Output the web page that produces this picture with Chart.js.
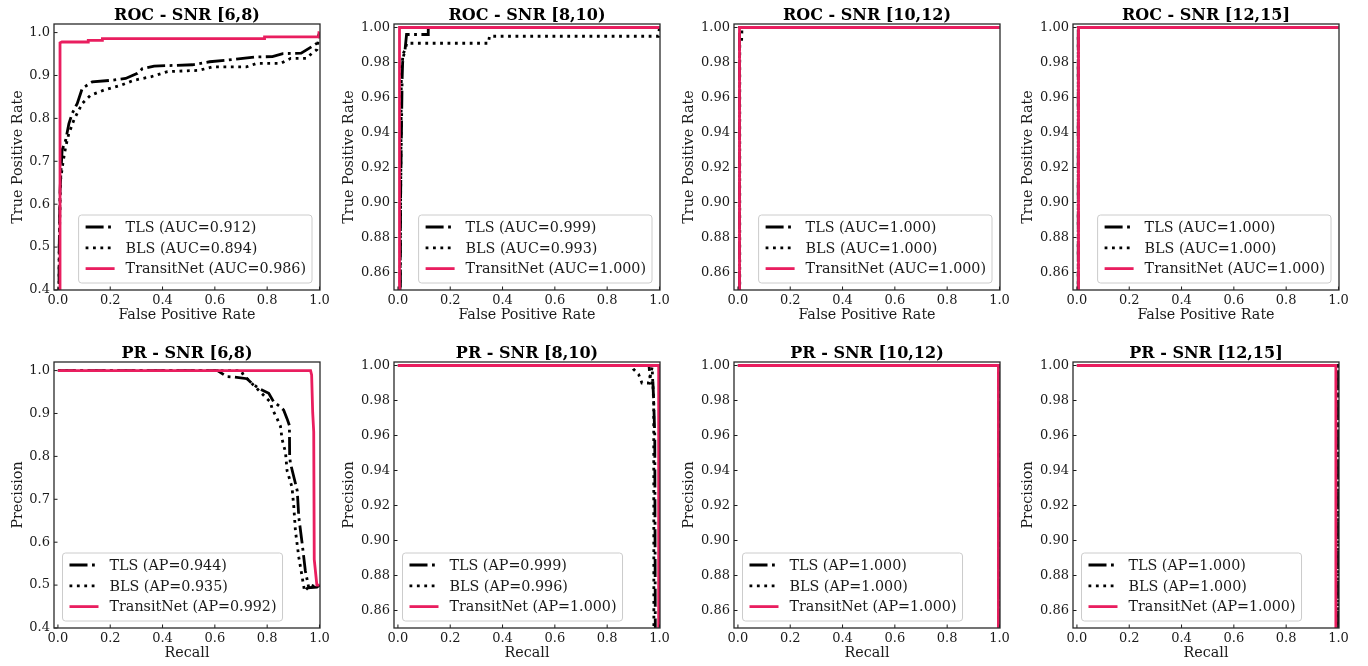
<!DOCTYPE html>
<html>
<head>
<meta charset="utf-8">
<script src="https://cdn.jsdelivr.net/npm/chart.js@4/dist/chart.umd.min.js"></script>
<style>
  html, body { margin: 0; padding: 0; background: #fff; overflow: hidden; }
  #wrap { position: relative; width: 1368px; height: 666px; }
  canvas { position: absolute; }
</style>
</head>
<body>
<div id="wrap"></div>
<script>
// SNR bins, one column each
const snrBins = ['[6,8)', '[8,10)', '[10,12)', '[12,15]'];

// summary scores shown in the legends
const aucTLS = [0.912, 0.999, 1.000, 1.000];
const aucBLS = [0.894, 0.993, 1.000, 1.000];
const aucNet = [0.986, 1.000, 1.000, 1.000];
const apTLS = [0.944, 0.999, 1.000, 1.000];
const apBLS = [0.935, 0.996, 1.000, 1.000];
const apNet = [0.992, 1.000, 1.000, 1.000];

// ROC curves as [fpr, tpr]
const roc68TLS = [[0,0],[0.005,0.5],[0.008,0.63],[0.012,0.68],[0.016,0.726],[0.03,0.75],[0.042,0.788],[0.055,0.812],[0.074,0.835],[0.093,0.87],[0.131,0.885],[0.208,0.889],[0.259,0.893],[0.304,0.905],[0.323,0.916],[0.368,0.922],[0.515,0.925],[0.58,0.932],[0.65,0.936],[0.75,0.943],[0.82,0.944],[0.86,0.951],[0.93,0.952],[0.97,0.967],[0.99,0.975],[1,1]];
const roc68BLS = [[0,0],[0.005,0.5],[0.01,0.656],[0.02,0.7],[0.03,0.735],[0.042,0.765],[0.061,0.796],[0.074,0.812],[0.093,0.835],[0.125,0.854],[0.176,0.866],[0.24,0.877],[0.291,0.889],[0.355,0.897],[0.419,0.909],[0.54,0.912],[0.59,0.92],[0.72,0.92],[0.76,0.928],[0.85,0.928],[0.89,0.94],[0.95,0.94],[0.97,0.951],[0.99,0.96],[1,1]];
const roc68Net = [[0,0],[0.008,0.02],[0.008,0.976],[0.015,0.978],[0.116,0.978],[0.116,0.982],[0.17,0.982],[0.17,0.986],[0.79,0.986],[0.79,0.99],[0.998,0.99],[0.998,1],[1,1]];

const roc810TLS = [[0,0],[0.01,0.9],[0.016,0.97],[0.018,0.98],[0.022,0.984],[0.027,0.987],[0.033,0.996],[0.116,0.996],[0.116,1],[1,1]];
const roc810BLS = [[0,0],[0.008,0.85],[0.012,0.94],[0.013,0.975],[0.02,0.985],[0.03,0.988],[0.033,0.991],[0.346,0.991],[0.35,0.995],[0.996,0.995],[1,1]];
const roc810Net = [[0,0],[0.006,0],[0.006,1],[1,1]];

const roc1012TLS = [[0,0],[0.006,0],[0.006,1],[1,1]];
const roc1012BLS = [[0,0],[0.007,0],[0.007,0.99],[0.014,0.992],[0.015,0.997],[0.015,1],[1,1]];
const roc1012Net = [[0,0],[0.006,0],[0.006,1],[1,1]];

const roc1215TLS = [[0,0],[0.005,0],[0.005,1],[1,1]];
const roc1215BLS = [[0,0],[0.005,0],[0.005,1],[1,1]];
const roc1215Net = [[0,0],[0.006,0],[0.006,1],[1,1]];

// PR curves as [recall, precision]
const pr68TLS = [[0,1],[0.61,1],[0.646,0.986],[0.672,0.985],[0.723,0.981],[0.742,0.97],[0.767,0.959],[0.806,0.947],[0.825,0.927],[0.851,0.915],[0.863,0.908],[0.876,0.888],[0.885,0.872],[0.886,0.8],[0.889,0.784],[0.902,0.752],[0.915,0.72],[0.921,0.658],[0.934,0.596],[0.946,0.533],[0.959,0.494],[0.99,0.495],[1,0.5]];
const pr68BLS = [[0,1],[0.7,1],[0.709,0.99],[0.748,0.966],[0.8,0.934],[0.812,0.927],[0.819,0.911],[0.838,0.888],[0.851,0.87],[0.857,0.84],[0.87,0.81],[0.876,0.767],[0.895,0.728],[0.902,0.681],[0.908,0.627],[0.921,0.565],[0.934,0.518],[0.943,0.486],[0.966,0.5],[0.99,0.495],[1,0.5]];
const pr68Net = [[0,1],[0.966,1],[0.97,0.99],[0.974,0.903],[0.978,0.857],[0.98,0.56],[0.99,0.5],[1,0.5]];

const pr810TLS = [[0,1],[0.96,1],[0.966,0.99],[0.975,0.99],[0.978,0.979],[0.982,0.96],[0.984,0.85],[0.985,0.5]];
const pr810BLS = [[0,1],[0.89,1],[0.9,0.998],[0.92,0.995],[0.933,0.99],[0.959,0.99],[0.972,0.999],[0.978,0.978],[0.98,0.5]];
const pr810Net = [[0,1],[0.997,1],[0.997,0.5]];

const pr1012TLS = [[0,1],[0.998,1],[0.998,0.5]];
const pr1012BLS = [[0,1],[0.995,1],[0.997,0.993],[0.997,0.5]];
const pr1012Net = [[0,1],[0.996,1],[0.996,0.5]];

const pr1215TLS = [[0,1],[1,1],[1,0.5]];
const pr1215BLS = [[0,1],[1,1],[1,0.5]];
const pr1215Net = [[0,1],[0.99,1],[0.99,0.5]];

// tick positions
const xTicks = [0, 0.2, 0.4, 0.6, 0.8, 1.0];
const yTicksWide = [0.4, 0.5, 0.6, 0.7, 0.8, 0.9, 1.0];
const yTicksNarrow = [0.86, 0.88, 0.90, 0.92, 0.94, 0.96, 0.98, 1.00];

const FONT = "'DejaVu Serif', 'Liberation Serif', serif";
const RED = '#e91e5f';
const INK = '#1a1a1a';
const LW = 2.8;

// frame, inward ticks, panel title and boxed legend
const panelDecor = {
  id: 'panelDecor',
  afterDraw(chart, args, opts) {
    const ctx = chart.ctx;
    const a = chart.chartArea;
    ctx.save();

    ctx.strokeStyle = INK;
    ctx.lineWidth = 1;
    ctx.setLineDash([]);
    ctx.beginPath();
    chart.scales.x.ticks.forEach(t => {
      const px = chart.scales.x.getPixelForValue(t.value);
      ctx.moveTo(px, a.bottom); ctx.lineTo(px, a.bottom - 3.5);
    });
    chart.scales.y.ticks.forEach(t => {
      const py = chart.scales.y.getPixelForValue(t.value);
      ctx.moveTo(a.left, py); ctx.lineTo(a.left + 3.5, py);
    });
    ctx.stroke();

    ctx.lineWidth = 1.3;
    ctx.strokeStyle = '#2a2a2a';
    ctx.strokeRect(a.left, a.top, a.right - a.left, a.bottom - a.top);

    ctx.fillStyle = '#000';
    ctx.font = 'bold 16px ' + FONT;
    ctx.textAlign = 'center';
    ctx.textBaseline = 'alphabetic';
    ctx.fillText(opts.title, (a.left + a.right) / 2, a.top - 4);

    // legend
    const sets = chart.data.datasets;
    ctx.font = '14.3px ' + FONT;
    const textW = Math.max(...sets.map(d => ctx.measureText(d.label).width));
    const boxW = 7 + 29 + 11 + textW + 6;
    const boxH = 68;
    const bx = opts.corner === 'right' ? a.right - 8 - boxW : a.left + 8.5;
    const by = a.bottom - 7 - boxH;
    ctx.beginPath();
    ctx.roundRect(bx, by, boxW, boxH, 3);
    ctx.fillStyle = 'rgba(255,255,255,0.85)';
    ctx.fill();
    ctx.strokeStyle = '#cccccc';
    ctx.lineWidth = 1;
    ctx.stroke();
    sets.forEach((d, i) => {
      const ry = by + 12 + i * 20.8;
      ctx.beginPath();
      ctx.setLineDash(d.borderDash || []);
      ctx.strokeStyle = d.borderColor;
      ctx.lineWidth = d.borderWidth;
      ctx.moveTo(bx + 7, ry); ctx.lineTo(bx + 36, ry);
      ctx.stroke();
      ctx.setLineDash([]);
      ctx.fillStyle = INK;
      ctx.textAlign = 'left';
      ctx.textBaseline = 'middle';
      ctx.fillText(d.label, bx + 47, ry + 1);
    });
    ctx.restore();
  }
};

function series(label, pts, style) {
  return Object.assign({
    label: label,
    data: pts.map(p => ({ x: p[0], y: p[1] })),
    pointRadius: 0,
    tension: 0,
    fill: false,
    borderWidth: LW
  }, style);
}

const tlsStyle = { borderColor: '#000', borderDash: [18, 4.5, 2.8, 4.5], order: 2 };
const blsStyle = { borderColor: '#000', borderDash: [2.8, 4.6], order: 1 };
const netStyle = { borderColor: RED, order: 0 };

function makePanel(col, row, cfg) {
  const frameLefts = [54, 394, 734, 1073];
  const frameTops = [24, 362];
  const cv = document.createElement('canvas');
  cv.width = 340; cv.height = 330;
  cv.style.left = (frameLefts[col] - 54) + 'px';
  cv.style.top = (frameTops[row] - 24) + 'px';
  cv.style.width = '340px'; cv.style.height = '330px';
  document.getElementById('wrap').appendChild(cv);

  const wide = cfg.yTicks === yTicksWide;
  const tickFont = { family: FONT, size: 13 };
  const labFont = { family: FONT, size: 14.3 };

  new Chart(cv, {
    type: 'line',
    data: { datasets: cfg.datasets },
    plugins: [panelDecor],
    options: {
      responsive: false,
      animation: false,
      devicePixelRatio: 1,
      layout: { padding: { top: 24, right: 20, left: 0, bottom: 0 } },
      plugins: {
        legend: { display: false },
        tooltip: { enabled: false },
        panelDecor: { title: cfg.title, corner: cfg.corner }
      },
      scales: {
        x: {
          type: 'linear',
          min: -0.015, max: 1.002,
          afterBuildTicks: s => { s.ticks = xTicks.map(v => ({ value: v })); },
          afterFit: s => { s.height = 40; },
          grid: { display: false, drawTicks: false },
          border: { display: false },
          ticks: { padding: 3, color: INK, font: tickFont, autoSkip: false, maxRotation: 0, callback: v => v.toFixed(1) },
          title: { display: true, text: cfg.xLabel, color: INK, font: labFont, padding: { top: 0, bottom: 6.5 } }
        },
        y: {
          type: 'linear',
          min: wide ? 0.4 : 0.85,
          max: wide ? 1.02 : 1.002,
          afterBuildTicks: s => { s.ticks = cfg.yTicks.map(v => ({ value: v })); },
          afterFit: s => { s.width = 54; },
          grid: { display: false, drawTicks: false },
          border: { display: false },
          ticks: { padding: 4, color: INK, font: tickFont, autoSkip: false, callback: v => v.toFixed(wide ? 1 : 2) },
          title: { display: true, text: cfg.yLabel, color: INK, font: labFont, padding: { top: wide ? 9.5 : 1, bottom: 0 } }
        }
      }
    }
  });
}

const rocSets = [
  [roc68TLS, roc68BLS, roc68Net],
  [roc810TLS, roc810BLS, roc810Net],
  [roc1012TLS, roc1012BLS, roc1012Net],
  [roc1215TLS, roc1215BLS, roc1215Net]
];
const prSets = [
  [pr68TLS, pr68BLS, pr68Net],
  [pr810TLS, pr810BLS, pr810Net],
  [pr1012TLS, pr1012BLS, pr1012Net],
  [pr1215TLS, pr1215BLS, pr1215Net]
];

snrBins.forEach((bin, i) => {
  const yt = i === 0 ? yTicksWide : yTicksNarrow;
  makePanel(i, 0, {
    title: 'ROC - SNR ' + bin,
    xLabel: 'False Positive Rate',
    yLabel: 'True Positive Rate',
    yTicks: yt,
    corner: 'right',
    datasets: [
      series('TLS (AUC=' + aucTLS[i].toFixed(3) + ')', rocSets[i][0], tlsStyle),
      series('BLS (AUC=' + aucBLS[i].toFixed(3) + ')', rocSets[i][1], blsStyle),
      series('TransitNet (AUC=' + aucNet[i].toFixed(3) + ')', rocSets[i][2], netStyle)
    ]
  });
  makePanel(i, 1, {
    title: 'PR - SNR ' + bin,
    xLabel: 'Recall',
    yLabel: 'Precision',
    yTicks: yt,
    corner: 'left',
    datasets: [
      series('TLS (AP=' + apTLS[i].toFixed(3) + ')', prSets[i][0], tlsStyle),
      series('BLS (AP=' + apBLS[i].toFixed(3) + ')', prSets[i][1], blsStyle),
      series('TransitNet (AP=' + apNet[i].toFixed(3) + ')', prSets[i][2], netStyle)
    ]
  });
});
</script>
</body>
</html>
